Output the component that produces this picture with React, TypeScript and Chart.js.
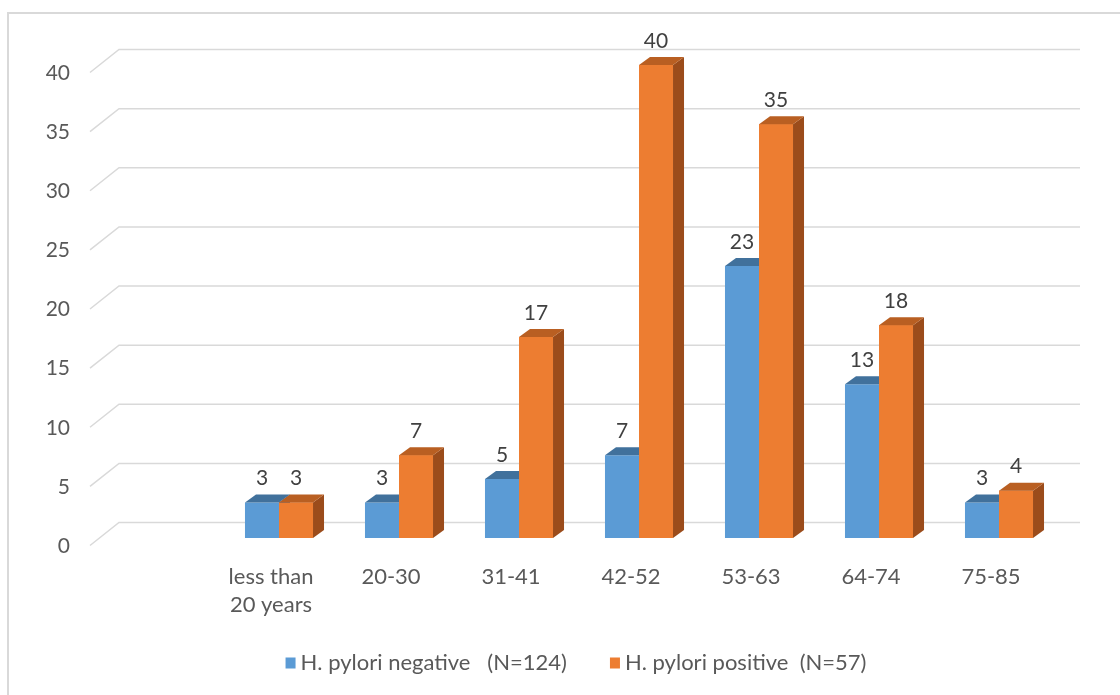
import React, { useEffect, useRef } from "react";
import { Chart, registerables } from "chart.js";

Chart.register(...registerables);

const categories: (string | string[])[] = [
  "",
  ["less than", "20 years"],
  "20-30",
  "31-41",
  "42-52",
  "53-63",
  "64-74",
  "75-85",
];
const negativeValues: (number | null)[] = [null, 3, 3, 5, 7, 23, 13, 3];
const positiveValues: (number | null)[] = [null, 3, 7, 17, 40, 35, 18, 4];
const seriesNames = ["H. pylori negative   (N=124)", "H. pylori positive  (N=57)"];
const yTicks = [0, 5, 10, 15, 20, 25, 30, 35, 40];

const FONT = "Lato, 'Open Sans', sans-serif";
const BLUE = "#5b9bd5";
const BLUE_TOP = "#41719c";
const BLUE_SIDE = "#3a6690";
const ORANGE = "#ed7d31";
const ORANGE_TOP = "#b95f22";
const ORANGE_SIDE = "#9b4c1b";
const GRID = "#d9d9d9";
const TEXT = "#595959";
const LABEL = "#404040";

const DX = 11;
const DY = 8;

const threeD = {
  id: "threeD",
  beforeDatasetsDraw(chart: any) {
    const ctx = chart.ctx as CanvasRenderingContext2D;
    const y = chart.scales.y;
    const area = chart.chartArea;
    ctx.save();
    ctx.strokeStyle = GRID;
    ctx.lineWidth = 1.5;
    for (const v of yTicks) {
      const py = y.getPixelForValue(v);
      ctx.beginPath();
      ctx.moveTo(area.left - 9, py + 7.5);
      ctx.lineTo(area.left + 20, py - 15.5);
      ctx.lineTo(area.right + 21, py - 15.5);
      ctx.stroke();
    }
    // y tick labels
    ctx.fillStyle = TEXT;
    ctx.font = `21px ${FONT}`;
    ctx.textAlign = "right";
    ctx.textBaseline = "middle";
    for (const v of yTicks) {
      const py = y.getPixelForValue(v);
      ctx.fillText(String(v), area.left - 29, py + 8);
    }
    // category labels
    const x = chart.scales.x;
    ctx.font = `22px ${FONT}`;
    ctx.textAlign = "center";
    categories.forEach((c, i) => {
      const px = x.getPixelForValue(i) - 8;
      const lines = Array.isArray(c) ? c : [c];
      lines.forEach((l, j) => {
        ctx.fillText(l, px, area.bottom + 39 + j * 28);
      });
    });
    // legend
    ctx.font = `22px ${FONT}`;
    ctx.textAlign = "left";
    const colors = [BLUE, ORANGE];
    const w0 = ctx.measureText(seriesNames[0]).width;
    const w1 = ctx.measureText(seriesNames[1]).width;
    const total = 15 + w0 + 43 + 15 + w1;
    let lx = (area.left + area.right) / 2 - total / 2 - 3;
    const ly = 663;
    [w0, w1].forEach((w, i) => {
      ctx.fillStyle = colors[i];
      ctx.fillRect(lx, ly - 5.5, 10, 11);
      ctx.fillStyle = TEXT;
      ctx.fillText(seriesNames[i], lx + 15, ly);
      lx += 15 + w + 43;
    });
    ctx.restore();
  },
  afterDatasetsDraw(chart: any) {
    const ctx = chart.ctx as CanvasRenderingContext2D;
    const m0 = chart.getDatasetMeta(0).data;
    const m1 = chart.getDatasetMeta(1).data;
    const faces = (b: any, front: string, top: string, side: string, drawFront: boolean) => {
      const l = b.x - b.width / 2;
      const r = b.x + b.width / 2;
      if (drawFront) {
        ctx.fillStyle = front;
        ctx.fillRect(l, b.y, b.width, b.base - b.y);
      }
      ctx.fillStyle = side;
      ctx.beginPath();
      ctx.moveTo(r, b.y);
      ctx.lineTo(r + DX, b.y - DY);
      ctx.lineTo(r + DX, b.base - DY);
      ctx.lineTo(r, b.base);
      ctx.closePath();
      ctx.fill();
      ctx.fillStyle = top;
      ctx.beginPath();
      ctx.moveTo(l, b.y);
      ctx.lineTo(l + DX, b.y - DY);
      ctx.lineTo(r + DX, b.y - DY);
      ctx.lineTo(r, b.y);
      ctx.closePath();
      ctx.fill();
    };
    ctx.save();
    for (let i = 0; i < categories.length; i++) {
      const a = m0[i];
      const b = m1[i];
      if (negativeValues[i] == null || positiveValues[i] == null) continue;
      faces(a, BLUE, BLUE_TOP, BLUE_SIDE, false);
      faces(b, ORANGE, ORANGE_TOP, ORANGE_SIDE, true);
    }
    // value labels
    ctx.fillStyle = LABEL;
    ctx.font = `21px ${FONT}`;
    ctx.textAlign = "center";
    ctx.textBaseline = "middle";
    for (let i = 0; i < categories.length; i++) {
      const vals = [negativeValues[i], positiveValues[i]];
      [m0[i], m1[i]].forEach((bar: any, k) => {
        const v = vals[k];
        if (v == null) return;
        ctx.fillText(String(v), bar.x, bar.y - 24);
      });
    }
    ctx.restore();
  },
};

export default function App() {
  const ref = useRef<HTMLCanvasElement | null>(null);
  useEffect(() => {
    if (!ref.current) return;
    const chart = new Chart(ref.current, {
      type: "bar",
      data: {
        labels: categories as any,
        datasets: [
          {
            label: seriesNames[0],
            data: negativeValues,
            backgroundColor: BLUE,
            categoryPercentage: 0.567,
            barPercentage: 1,
          },
          {
            label: seriesNames[1],
            data: positiveValues,
            backgroundColor: ORANGE,
            categoryPercentage: 0.567,
            barPercentage: 1,
          },
        ],
      },
      options: {
        responsive: false,
        animation: false,
        layout: { padding: { left: 99, right: 61, top: 65, bottom: 157 } },
        scales: {
          x: { display: false },
          y: { display: false, min: 0, max: 40 },
        },
        plugins: {
          legend: { display: false },
          tooltip: { enabled: false },
        },
      },
      plugins: [threeD],
    });
    return () => chart.destroy();
  }, []);
  return (
    <div style={{ position: "fixed", left: 0, top: 0, width: 1120, height: 695, background: "#fff" }}>
      <div
        style={{
          position: "absolute",
          left: 7,
          top: 12,
          width: 1120,
          height: 700,
          borderTop: "2px solid #d9d9d9",
          borderLeft: "2px solid #d9d9d9",
        }}
      />
      <canvas ref={ref} width={1120} height={695} style={{ position: "absolute", left: 0, top: 0 }} />
    </div>
  );
}
